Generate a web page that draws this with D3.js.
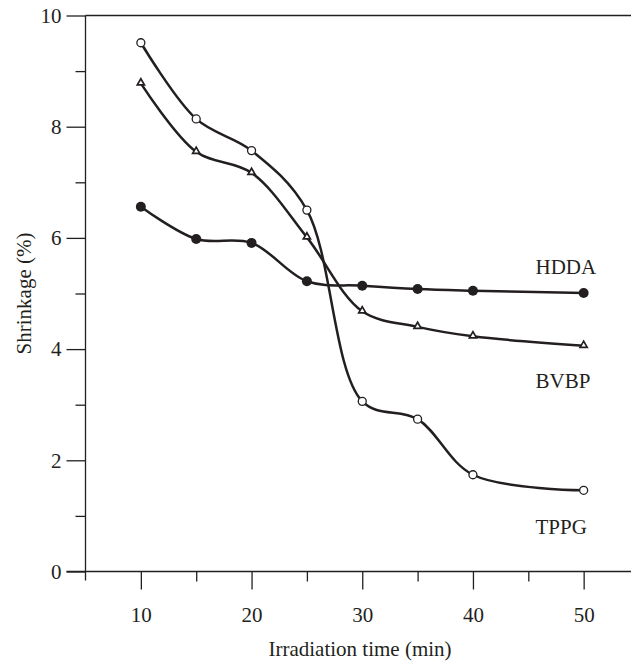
<!DOCTYPE html>
<html>
<head>
<meta charset="utf-8">
<script src="https://cdn.jsdelivr.net/npm/d3@7"></script>
<style>
  html, body { margin: 0; padding: 0; background: #fff; }
  svg { display: block; }
  text { font-family: "Liberation Serif", "Times New Roman", serif; fill: #231f20; }
</style>
</head>
<body>
<svg id="chart" width="631" height="663"></svg>
<script>
// Irradiation time (min)
const times = [10, 15, 20, 25, 30, 35, 40, 50];
// Shrinkage (%) per resin
const hdda = [6.56, 5.98, 5.91, 5.22, 5.14, 5.08, 5.05, 5.01];
const bvbp = [8.78, 7.55, 7.17, 6.01, 4.68, 4.40, 4.23, 4.06];
const tppg = [9.51, 8.14, 7.57, 6.50, 3.06, 2.74, 1.74, 1.46];
const seriesNames = ["HDDA", "BVBP", "TPPG"];
// Value at which each series label baseline sits (near the 50 min end)
const labelValues = [5.35, 3.3, 0.67];

const xMajor = [10, 20, 30, 40, 50];
const xMinor = [15, 25, 35, 45, 55];
const yMajor = [0, 2, 4, 6, 8, 10];
const yMinor = [1, 3, 5, 7, 9];

const ink = "#231f20";
const svg = d3.select("#chart");
const W = 631;

const x = d3.scaleLinear().domain([5, 55]).range([85.5, 639]);
const y = d3.scaleLinear().domain([0, 10]).range([571.5, 15.5]);

// ---- axes ----
const gy = svg.append("g").attr("transform", `translate(${x(5)},0)`);
gy.call(d3.axisLeft(y).tickValues(yMajor).tickSize(19).tickPadding(5).tickFormat(d3.format("d")));
gy.append("g").call(d3.axisLeft(y).tickValues(yMinor).tickSize(10).tickFormat(""));
gy.selectAll(".domain").remove();

const gx = svg.append("g").attr("transform", `translate(0,${y(0)})`);
gx.call(d3.axisBottom(x).tickValues(xMajor).tickSize(18).tickFormat(d3.format("d")));
gx.append("g").call(d3.axisBottom(x).tickValues(xMinor).tickSize(10).tickFormat(""));
gx.selectAll(".domain").remove();
gx.selectAll("text").attr("y", 50.3).attr("dy", 0);

svg.selectAll(".tick line").attr("stroke", ink).attr("stroke-width", 1.3);
svg.selectAll(".tick text")
  .attr("font-size", 21)
  .attr("font-family", "Liberation Serif, serif")
  .attr("fill", ink);

// axis lines and the top frame line
const frame = svg.append("g").attr("stroke", ink).attr("stroke-width", 1.3);
frame.append("line").attr("x1", x(5)).attr("x2", x(5)).attr("y1", y(10)).attr("y2", y(0) + 9);
frame.append("line").attr("x1", x(5) - 19).attr("x2", W).attr("y1", y(0)).attr("y2", y(0));
frame.append("line").attr("x1", x(5)).attr("x2", W).attr("y1", y(10)).attr("y2", y(10));

// axis titles
svg.append("text")
  .attr("x", 360).attr("y", 656)
  .attr("text-anchor", "middle").attr("font-size", 21)
  .text("Irradiation time (min)");
svg.append("text")
  .attr("transform", `translate(31,${(y(0) + y(10)) / 2}) rotate(-90)`)
  .attr("text-anchor", "middle").attr("font-size", 21)
  .text("Shrinkage (%)");

// ---- curves ----
const series = [hdda, bvbp, tppg];
const line = d3.line()
  .x((d, i) => x(times[i]))
  .y(d => y(d))
  .curve(d3.curveCatmullRom.alpha(0.5));

svg.append("g").selectAll("path")
  .data(series)
  .join("path")
  .attr("d", d => line(d))
  .attr("fill", "none")
  .attr("stroke", ink)
  .attr("stroke-width", 2.5);

// ---- markers ----
// HDDA: filled circles
svg.append("g").selectAll("circle")
  .data(hdda)
  .join("circle")
  .attr("cx", (d, i) => x(times[i]))
  .attr("cy", d => y(d))
  .attr("r", 5)
  .attr("fill", ink);

// BVBP: open triangles
const tri = d3.symbol().type(d3.symbolTriangle).size(22);
svg.append("g").selectAll("path")
  .data(bvbp)
  .join("path")
  .attr("d", tri)
  .attr("transform", (d, i) => `translate(${x(times[i])},${y(d) - 0.5})`)
  .attr("fill", "#fff")
  .attr("stroke", ink)
  .attr("stroke-width", 1.7);

// TPPG: open circles
svg.append("g").selectAll("circle")
  .data(tppg)
  .join("circle")
  .attr("cx", (d, i) => x(times[i]))
  .attr("cy", d => y(d))
  .attr("r", 4)
  .attr("fill", "#fff")
  .attr("stroke", ink)
  .attr("stroke-width", 1.3);

// ---- series labels ----
svg.append("g").selectAll("text")
  .data(seriesNames)
  .join("text")
  .attr("x", 535.5)
  .attr("y", (d, i) => y(labelValues[i]))
  .attr("font-size", 21)
  .text(d => d);
</script>
</body>
</html>
